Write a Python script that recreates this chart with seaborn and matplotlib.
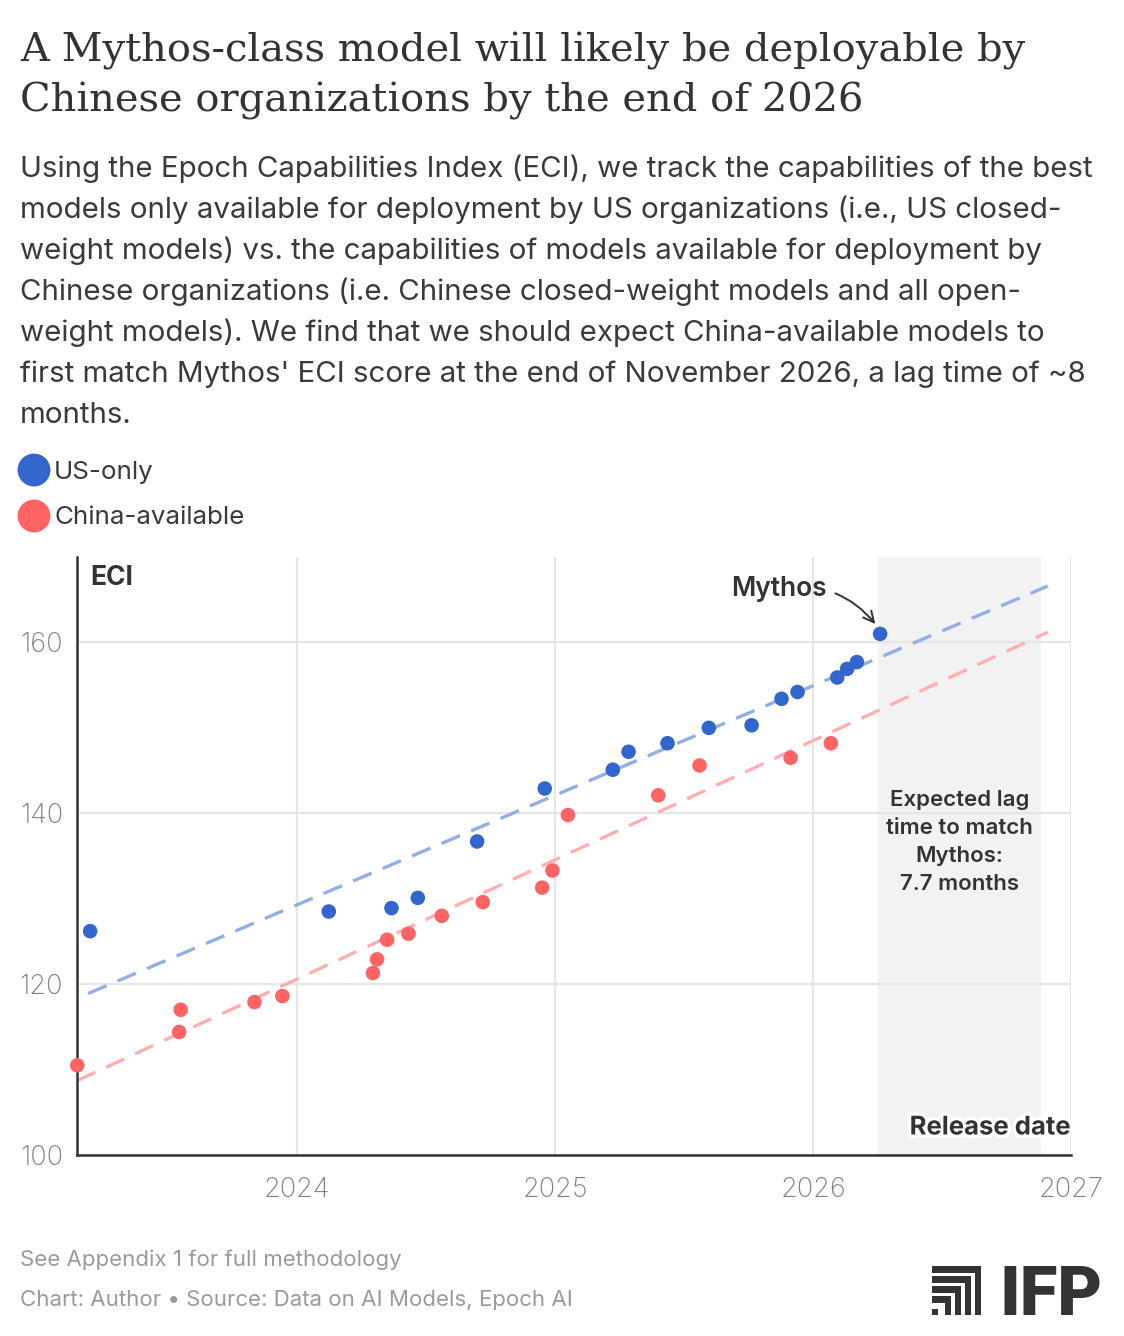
import matplotlib
matplotlib.use("Agg")
import matplotlib.pyplot as plt
import matplotlib.patheffects as pe
from matplotlib.patches import Rectangle
import numpy as np
import pandas as pd
import seaborn as sns

# ---------------- data ----------------
us_dates = [2023.198, 2024.123, 2024.366, 2024.468, 2024.698, 2024.960, 2025.224,
            2025.285, 2025.436, 2025.596, 2025.762, 2025.878, 2025.940, 2026.094,
            2026.132, 2026.170, 2026.260]
us_eci = [126.2, 128.5, 128.9, 130.1, 136.7, 142.9, 145.1, 147.2, 148.2, 150.0,
          150.3, 153.4, 154.2, 155.9, 156.9, 157.7, 161.0]

cn_dates = [2023.148, 2023.543, 2023.549, 2023.835, 2023.943, 2024.294, 2024.310,
            2024.349, 2024.432, 2024.561, 2024.720, 2024.950, 2024.990, 2025.050,
            2025.400, 2025.560, 2025.913, 2026.069]
cn_eci = [110.5, 114.4, 117.0, 117.9, 118.6, 121.3, 122.9, 125.2, 125.9, 128.0,
          129.6, 131.3, 133.3, 139.8, 142.1, 145.6, 146.5, 148.2]

# trend lines (endpoints)
us_trend_x = [2023.19, 2026.91]
us_trend_y = [118.9, 166.6]
cn_trend_x = [2023.147, 2026.91]
cn_trend_y = [108.7, 161.2]

lag_start, lag_end = 2026.25, 2026.885
mythos_date, mythos_eci = 2026.260, 161.0

series_names = ["US-only", "China-available"]
x_ticks = [2024, 2025, 2026, 2027]
x_tick_labels = ["2024", "2025", "2026", "2027"]
y_ticks = [100, 120, 140, 160]
y_tick_labels = ["100", "120", "140", "160"]

title_lines = ["A Mythos-class model will likely be deployable by",
               "Chinese organizations by the end of 2026"]
subtitle_lines = [
    "Using the Epoch Capabilities Index (ECI), we track the capabilities of the best",
    "models only available for deployment by US organizations (i.e., US closed-",
    "weight models) vs. the capabilities of models available for deployment by",
    "Chinese organizations (i.e. Chinese closed-weight models and all open-",
    "weight models). We find that we should expect China-available models to",
    "first match Mythos' ECI score at the end of November 2026, a lag time of ~8",
    "months.",
]
footer_lines = ["See Appendix 1 for full methodology",
                "Chart: Author \u2022 Source: Data on AI Models, Epoch AI"]

# ---------------- style ----------------
BLUE = "#3366CC"
RED = "#FF6464"
BLUE_LINE = "#93AEE6"
RED_LINE = "#FFAFAF"
DARK = "#333333"
GRAY = "#7F7F7F"

sns.set_theme(style="white")
plt.rcParams["font.family"] = ["Inter", "DejaVu Sans"]

W, H = 1124, 1336
fig = plt.figure(figsize=(W / 100, H / 100), dpi=100)
fig.patch.set_facecolor("white")


def fx(x):
    return x / W


def fy(y):
    return 1 - y / H


renderer = fig.canvas.get_renderer()


def fit_text(x, y, s, width_px, size_guess=20, **kw):
    t = fig.text(fx(x), fy(y), s, fontsize=size_guess, **kw)
    w = t.get_window_extent(renderer=renderer).width
    if w > 0:
        t.set_fontsize(size_guess * width_px / w)
    return t


SERIF = ["DejaVu Serif"]
# title
tt = fit_text(20, 61, title_lines[0], 1005, 30, family=SERIF,
              color=DARK, va="baseline", ha="left")
fig.text(fx(20), fy(111), title_lines[1], fontsize=tt.get_fontsize(),
         family=SERIF, color=DARK, va="baseline", ha="left")

# subtitle
st = fit_text(20, 177, subtitle_lines[0], 1075, 20, color="#3A3A3A",
              va="baseline", ha="left")
for i, line in enumerate(subtitle_lines[1:], start=1):
    fig.text(fx(20), fy(177 + 41 * i), line, fontsize=st.get_fontsize(),
             color="#3A3A3A", va="baseline", ha="left")

# ---------------- axes ----------------
ax = fig.add_axes([fx(77), fy(1155), fx(1071) - fx(77), (1155 - 557) / H])

df = pd.DataFrame({
    "date": us_dates + cn_dates,
    "eci": us_eci + cn_eci,
    "group": [series_names[0]] * len(us_dates) + [series_names[1]] * len(cn_dates),
})
trend = pd.DataFrame({
    "date": us_trend_x + cn_trend_x,
    "eci": us_trend_y + cn_trend_y,
    "group": [series_names[0]] * 2 + [series_names[1]] * 2,
})

ax.axvspan(lag_start, lag_end, color="#F2F2F2", zorder=0, lw=0)
sns.lineplot(data=trend, x="date", y="eci", hue="group",
             palette={series_names[0]: BLUE_LINE, series_names[1]: RED_LINE},
             lw=2.4, dashes=False, legend=False, ax=ax, zorder=2)
for ln in ax.get_lines():
    ln.set_dashes((6, 3.6))
sns.scatterplot(data=df, x="date", y="eci", hue="group",
                palette={series_names[0]: BLUE, series_names[1]: RED},
                s=110, edgecolor="none", legend=False, ax=ax, zorder=4)
for c in ax.collections:
    c.set_clip_on(False)

ax.set_xlim(2023.147, 2027.0)
ax.set_ylim(100, 170)
ax.set_xticks(x_ticks)
ax.set_xticklabels(x_tick_labels)
ax.set_yticks(y_ticks)
ax.set_yticklabels(y_tick_labels)
ax.set_xlabel("")
ax.set_ylabel("")
ax.grid(True, color="#E6E6E6", lw=1.6, zorder=1)
ax.set_axisbelow(True)
for sp in ["top", "right"]:
    ax.spines[sp].set_visible(False)
for sp in ["left", "bottom"]:
    ax.spines[sp].set_color(DARK)
    ax.spines[sp].set_linewidth(1.8)
    ax.spines[sp].set_zorder(3)
ax.tick_params(axis="both", length=0, labelsize=19.5, colors=GRAY)
ax.tick_params(axis="x", pad=16)
ax.tick_params(axis="y", pad=10)
for lab in ax.get_yticklabels() + ax.get_xticklabels():
    lab.set_fontweight("light")

# axis labels inside
ax.text(0.013, 0.987, "ECI", transform=ax.transAxes, fontsize=19,
        fontweight="bold", color=DARK, va="top", ha="left")
ax.text(1.0, 0.026, "Release date", transform=ax.transAxes, fontsize=18.5,
        fontweight="bold", color=DARK, va="bottom", ha="right",
        path_effects=[pe.withStroke(linewidth=5, foreground="white")], zorder=6)

# lag text
ax.text((lag_start + lag_end) / 2, 136.6,
        "Expected lag\ntime to match\nMythos:\n7.7 months",
        fontsize=16, fontweight="semibold", color=DARK, ha="center",
        va="center", linespacing=1.5, zorder=6)

# Mythos annotation
ax.annotate("Mythos", xy=(mythos_date - 0.012, mythos_eci + 0.9),
            xytext=(2026.054, 166.3), fontsize=19, fontweight="semibold",
            color=DARK, ha="right", va="center",
            arrowprops=dict(arrowstyle="->", color=DARK, lw=1.4,
                            shrinkA=4, shrinkB=2,
                            connectionstyle="arc3,rad=-0.3"),
            zorder=6)

# ---------------- legend ----------------
lax = fig.add_axes([0, 0, 1, 1], zorder=-1)
lax.set_xlim(0, W)
lax.set_ylim(H, 0)
lax.axis("off")
lax.scatter([34, 34], [470, 516], s=[560, 560], c=[BLUE, RED], edgecolors="none")
fig.text(fx(54), fy(472), series_names[0], fontsize=18.7, color="#3A3A3A",
         va="center", ha="left")
fig.text(fx(54), fy(518), series_names[1], fontsize=18.7, color="#3A3A3A",
         va="center", ha="left")

# footer
fig.text(fx(20), fy(1260), footer_lines[0], fontsize=16, color="#9A9A9A",
         va="center", ha="left")
fig.text(fx(20), fy(1300), footer_lines[1], fontsize=16, color="#9A9A9A",
         va="center", ha="left")

# IFP logo
for i in range(4):
    top = 1266 + 10 * i
    right = 981 - 10 * i
    lax.add_patch(Rectangle((932, top), right - 932, 6.5, color=DARK, lw=0))
    lax.add_patch(Rectangle((right - 6.5, top), 6.5, 1315 - top, color=DARK, lw=0))
lax.add_patch(Rectangle((932, 1309), 5.5, 6, color=DARK, lw=0))
lt = fig.text(fx(1000), fy(1315), "IFP", fontsize=40, fontweight="black",
              family=["Roboto", "DejaVu Sans"], color=DARK, va="baseline", ha="left")
w = lt.get_window_extent(renderer=renderer).width
lt.set_fontsize(40 * 103 / w)

fig.savefig("out.png", dpi=100, facecolor="white")
